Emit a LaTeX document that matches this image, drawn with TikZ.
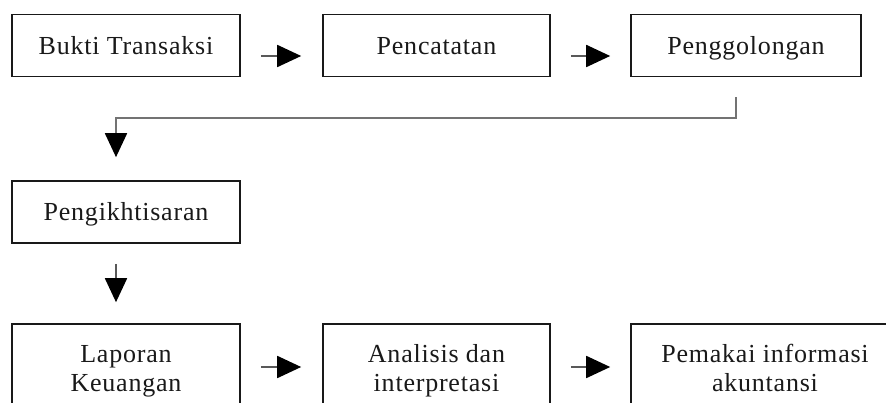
\documentclass[tikz,border=0pt]{standalone}
\usepackage{fontspec}
\setmainfont[LetterSpace=3]{Liberation Serif}
\usetikzlibrary{arrows.meta}
\begin{document}
\begin{tikzpicture}[x=1pt,y=-1pt,
  box/.style={draw=black!90, line width=1.6pt, rectangle, inner sep=0pt,
    font=\fontsize{26}{29.5}\selectfont, align=center, text=black!90},
  one/.style={box, text height=17.3pt, text depth=0pt, minimum height=62pt},
  two/.style={box, minimum height=94pt},
  flow/.style={draw=black!65, line width=1.8pt,
    -{Triangle[length=24pt,width=22pt,color=black]}},
  conn/.style={draw=black!55, line width=1.8pt,
    -{Triangle[length=24pt,width=22pt,color=black]}}]
\useasboundingbox (0,0) rectangle (886,403);
\clip (0,0) rectangle (886,403);
% row 1
\node[one, minimum width=228pt] (b1) at (126,45.5) {Bukti Transaksi};
\node[one, minimum width=227pt] (b2) at (436.5,45.5) {Pencatatan};
\node[one, minimum width=230pt] (b3) at (746,45.5) {Penggolongan};
% row 2
\node[one, minimum width=228pt] (b4) at (126,212) {Pengikhtisaran};
% row 3
\node[two, minimum width=228pt] (b5) at (126,371) {\strut Laporan\\\strut Keuangan};
\node[two, minimum width=227pt] (b6) at (436.5,371) {\strut Analisis dan\\\strut interpretasi};
\node[two, minimum width=268pt] (b7) at (765,371) {\strut Pemakai informasi\\\strut akuntansi};
% row 1 arrows
\draw[flow, shorten <=20pt, shorten >=21pt] ([yshift=-10.5pt]b1.east) -- ([yshift=-10.5pt]b2.west);
\draw[flow, shorten <=20pt, shorten >=20pt] ([yshift=-10.5pt]b2.east) -- ([yshift=-10.5pt]b3.west);
% elbow connector
\coordinate (c0) at ([xshift=-10pt,yshift=-20pt]b3.south);
\draw[conn] (c0) -- ++(0,21) -| ([xshift=-10pt,yshift=23pt]b4.north);
% down arrow
\draw[flow, shorten <=20pt, shorten >=21pt] ([xshift=-10pt]b4.south) -- ([xshift=-10pt]b5.north);
% row 3 arrows
\draw[flow, shorten <=20pt, shorten >=21pt] ([yshift=4pt]b5.east) -- ([yshift=4pt]b6.west);
\draw[flow, shorten <=20pt, shorten >=20pt] ([yshift=4pt]b6.east) -- ([yshift=4pt]b7.west);
\end{tikzpicture}
\end{document}
